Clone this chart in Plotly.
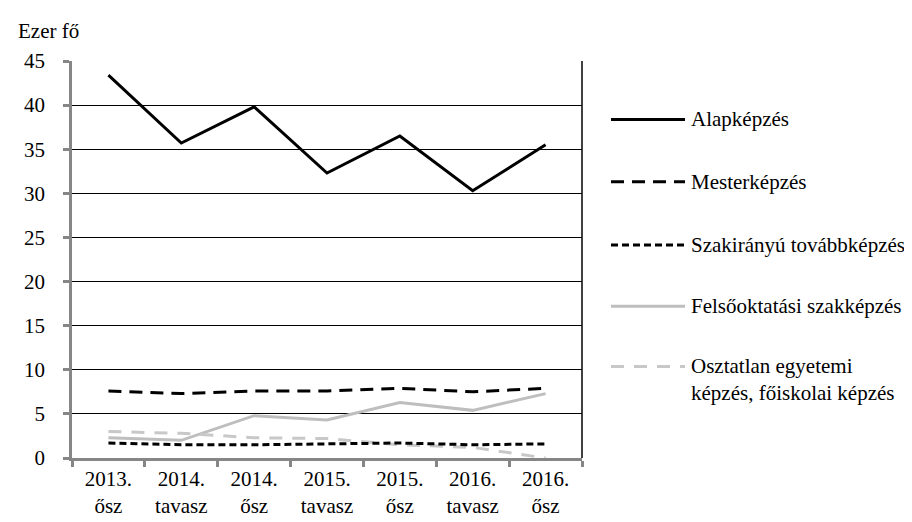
import plotly.graph_objects as go

categories = ["2013.<br>ősz", "2014.<br>tavasz", "2014.<br>ősz", "2015.<br>tavasz",
              "2015.<br>ősz", "2016.<br>tavasz", "2016.<br>ősz"]
alapkepzes = [43.4, 35.7, 39.8, 32.3, 36.5, 30.3, 35.5]
mesterkepzes = [7.6, 7.3, 7.6, 7.6, 7.9, 7.5, 7.9]
szakiranyu = [1.7, 1.5, 1.5, 1.6, 1.7, 1.5, 1.6]
felsooktatasi = [2.3, 2.0, 4.8, 4.3, 6.3, 5.4, 7.3]
osztatlan = [3.0, 2.8, 2.3, 2.2, 1.5, 1.2, 0.0]

series_names = ["Alapképzés", "Mesterképzés", "Szakirányú továbbképzés",
                "Felsőoktatási szakképzés", "Osztatlan egyetemi<br>képzés, főiskolai képzés"]
y_ticks = [0, 5, 10, 15, 20, 25, 30, 35, 40, 45]

FONT = "'Times New Roman', 'Liberation Serif', serif"
FS = 21
AXIS_GREY = "#868686"

styles = [
    dict(color="black", dash="solid"),
    dict(color="black", dash="13px,8px"),
    dict(color="black", dash="7px,4px"),
    dict(color="#BEBEBE", dash="solid"),
    dict(color="#C8C8C8", dash="13px,10px"),
]
data = [alapkepzes, mesterkepzes, szakiranyu, felsooktatasi, osztatlan]

fig = go.Figure()
order = [3, 4, 0, 1, 2]
for i in order:
    fig.add_trace(go.Scatter(
        x=categories, y=data[i], mode="lines", name=series_names[i],
        line=dict(color=styles[i]["color"], dash=styles[i]["dash"], width=3),
        showlegend=False, hoverinfo="skip"))

W, H = 912, 522
L, R, T, B = 64, 338, 53, 61
pw = W - L - R
ph = H - T - B

def px_x(px):
    return (px - L) / pw

def px_y(py):
    return (H - B - py) / ph

shapes = []
annotations = []
shapes.append(dict(type="line", xref="paper", yref="paper", x0=1, x1=1, y0=0, y1=1,
                   line=dict(color="black", width=1.5)))
leg_y = [113, 177, 242, 305, 367]
for i in range(5):
    yy = px_y(leg_y[i])
    shapes.append(dict(type="line", xref="paper", yref="paper",
                       x0=px_x(603), x1=px_x(677), y0=yy, y1=yy,
                       line=dict(color=styles[i]["color"], dash=styles[i]["dash"], width=3)))
    ty = yy if i < 4 else px_y(380)
    annotations.append(dict(xref="paper", yref="paper", x=px_x(681), y=ty,
                            xanchor="left", yanchor="middle", showarrow=False,
                            text=series_names[i], align="left",
                            font=dict(family=FONT, size=FS, color="black")))

annotations.append(dict(xref="paper", yref="paper", x=px_x(8), y=px_y(22),
                        xanchor="left", yanchor="middle", showarrow=False,
                        text="Ezer fő", font=dict(family=FONT, size=FS, color="black")))

fig.update_layout(
    width=W, height=H,
    margin=dict(l=L, r=R, t=T, b=B, pad=0),
    paper_bgcolor="white", plot_bgcolor="white",
    font=dict(family=FONT, size=FS, color="black"),
    shapes=shapes, annotations=annotations,
    xaxis=dict(type="category", range=[-0.5, 6.5], showgrid=False, zeroline=False,
               showline=True, linecolor=AXIS_GREY, linewidth=2.5,
               ticks="outside", tickson="boundaries", ticklen=6, tickwidth=2.5,
               tickcolor=AXIS_GREY, tickfont=dict(family=FONT, size=FS, color="black")),
    yaxis=dict(range=[0, 45], tickvals=y_ticks, showgrid=True, gridcolor="black",
               gridwidth=1, zeroline=False, showline=True, linecolor=AXIS_GREY,
               linewidth=2.5, ticks="outside", ticklen=6, tickwidth=2.5,
               tickcolor=AXIS_GREY, ticklabelstandoff=14,
               tickfont=dict(family=FONT, size=FS, color="black")),
)

fig.write_html("out.html")
